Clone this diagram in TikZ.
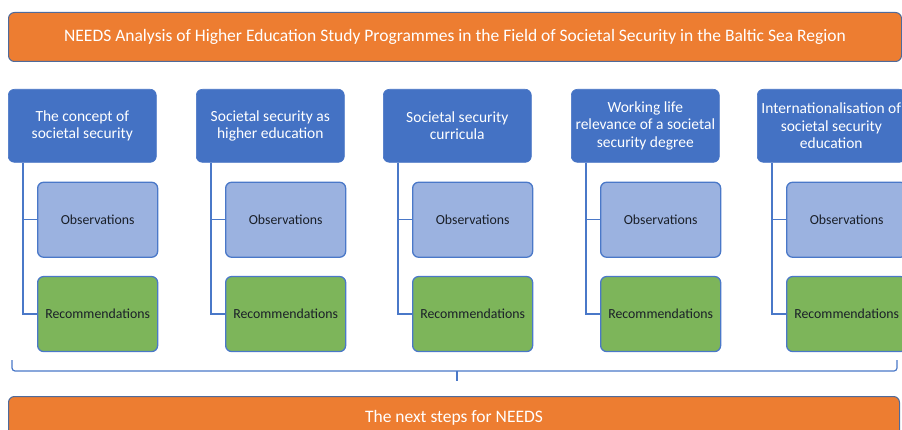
\documentclass[tikz,border=0pt]{standalone}
\usepackage{fontspec}
\setmainfont{Carlito}
\definecolor{barorange}{HTML}{ED7D31}
\definecolor{barline}{HTML}{4F6A9A}
\definecolor{headblue}{HTML}{4472C4}
\definecolor{obsblue}{HTML}{9BB2E0}
\definecolor{recgreen}{HTML}{7DB55A}
\definecolor{edgeblue}{HTML}{4A78C8}
\definecolor{subtext}{HTML}{1A1F28}
\begin{document}
\begin{tikzpicture}[x=1pt,y=-1pt,
  box/.style={rounded corners=6pt, inner sep=2pt, align=center, anchor=north west},
  bar/.style={box, fill=barorange, draw=barline, line width=1pt, text=white,
    font=\fontsize{17.5}{20}\selectfont},
  head/.style={box, fill=headblue, draw=headblue, line width=0.6pt, text=white,
    minimum width=148pt, minimum height=73pt,
    font=\fontsize{15.5}{17.5}\selectfont},
  sub/.style={box, draw=edgeblue, line width=1.3pt, text=subtext,
    minimum width=120pt, minimum height=75pt,
    font=\fontsize{13.8}{16}\selectfont},
  obs/.style={sub, fill=obsblue},
  rec/.style={sub, fill=recgreen},
  conn/.style={draw=edgeblue, line width=1.2pt}]
\useasboundingbox (0,0) rectangle (902,430);
\clip (0,0) rectangle (902,430);

% title bar
\node[bar, minimum width=893pt, minimum height=49pt] (title) at (8,12)
  {NEEDS Analysis of Higher Education Study Programmes in the Field of Societal Security in the Baltic Sea Region};

% column headings
\node[head] (h1) at (8,89)   {The concept of\\societal security};
\node[head] (h2) at (196,89) {Societal security as\\higher education};
\node[head] (h3) at (383,89) {Societal security\\curricula};
\node[head] (h4) at (571,89) {Working life\\relevance of a societal\\security degree};
\node[head] (h5) at (757,89) {Internationalisation of\\societal security\\education};

% observation and recommendation boxes with their connectors
\foreach \i in {1,...,5}{
  \node[obs] (o\i) at ([xshift=29pt,yshift=-19pt]h\i.south west) {Observations};
  \node[rec] (r\i) at ([yshift=-18pt]o\i.south west) {Recommendations};
  \coordinate (s\i) at ([xshift=15pt]h\i.south west);
  \draw[conn] (s\i) |- (r\i.west);
  \draw[conn] (s\i |- o\i.west) -- (o\i.west);
}

% brace gathering all columns
\coordinate (bl) at (12,360);
\coordinate (br) at (897,360);
\coordinate (bm) at (457,381);
\draw[conn, rounded corners=3pt] (bl) -- (bl |- 0,371) -- (br |- 0,371) -- (br);
\draw[conn] (bm |- 0,371) -- (bm);

% closing bar
\node[bar, minimum width=891pt, minimum height=42pt] (next) at (8,396)
  {The next steps for NEEDS};
\end{tikzpicture}
\end{document}
